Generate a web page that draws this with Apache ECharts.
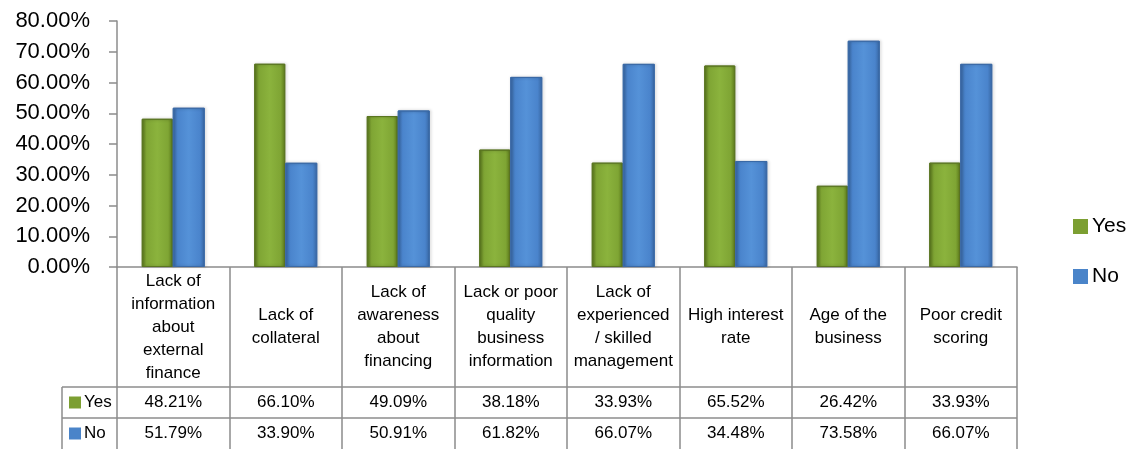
<!DOCTYPE html>
<html>
<head>
<meta charset="utf-8">
<script src="https://cdn.jsdelivr.net/npm/echarts@6/dist/echarts.min.js"></script>
<style>
  html, body { margin: 0; padding: 0; background: #fff; }
  #chart { width: 1137px; height: 449px; }
</style>
</head>
<body>
<div id="chart"></div>
<script>
// Obstacles to external finance: share of firms answering Yes / No
const categories = [
  'Lack of\ninformation\nabout\nexternal\nfinance',
  'Lack of\ncollateral',
  'Lack of\nawareness\nabout\nfinancing',
  'Lack or poor\nquality\nbusiness\ninformation',
  'Lack of\nexperienced\n/ skilled\nmanagement',
  'High interest\nrate',
  'Age of the\nbusiness',
  'Poor credit\nscoring'
];
const yesValues = [48.21, 66.10, 49.09, 38.18, 33.93, 65.52, 26.42, 33.93];
const noValues  = [51.79, 33.90, 50.91, 61.82, 66.07, 34.48, 73.58, 66.07];
const seriesNames = ['Yes', 'No'];
const yTicks = { min: 0, max: 80, interval: 10 };

const FONT = "'Liberation Sans', Arial, sans-serif";
const LINE = '#8c8c8c';
const GRID = { left: 117, right: 120, top: 21, bottom: 182 };
const CANVAS_H = 449;
const axisY = CANVAS_H - GRID.bottom;       // bottom of plot (0%)
const headerH = 120;                        // height of the category-name row
const rowH = 31;                            // height of each value row
const legendColLeft = 62;

function barGradient(edge, mid, light) {
  return new echarts.graphic.LinearGradient(0, 0, 1, 0, [
    { offset: 0, color: edge },
    { offset: 0.15, color: mid },
    { offset: 0.5, color: light },
    { offset: 0.85, color: mid },
    { offset: 1, color: edge }
  ]);
}
const greenFill = barGradient('#5e7c1d', '#7fa534', '#8bb33d');
const blueFill = barGradient('#3a6aa8', '#4a84cc', '#5592d8');
const greenIcon = '#7c9f32';
const blueIcon = '#4a84c9';

const chart = echarts.init(document.getElementById('chart'), null, { renderer: 'canvas' });

chart.setOption({
  animation: false,
  backgroundColor: '#fff',
  textStyle: { fontFamily: FONT },
  grid: GRID,
  legend: {
    orient: 'vertical',
    left: 1073,
    top: 216,
    padding: 0,
    itemWidth: 15,
    itemHeight: 15,
    itemGap: 29,
    icon: 'rect',
    textStyle: { fontSize: 21, color: '#000', fontFamily: FONT, padding: [0, 0, 0, -1] },
    data: [
      { name: seriesNames[0], itemStyle: { color: greenIcon, borderWidth: 0 } },
      { name: seriesNames[1], itemStyle: { color: blueIcon, borderWidth: 0 } }
    ]
  },
  xAxis: {
    type: 'category',
    data: categories,
    axisLine: { show: true, lineStyle: { color: LINE, width: 1.5 } },
    axisTick: {
      show: true,
      interval: 0,
      length: CANVAS_H - axisY,
      lineStyle: { color: LINE, width: 1.5 }
    },
    axisLabel: {
      interval: 0,
      margin: headerH / 2,
      verticalAlign: 'middle',
      align: 'center',
      fontSize: 17,
      lineHeight: 23,
      color: '#000',
      fontFamily: FONT
    },
    splitLine: { show: false }
  },
  yAxis: {
    type: 'value',
    min: yTicks.min,
    max: yTicks.max,
    interval: yTicks.interval,
    axisLine: { show: true, lineStyle: { color: LINE, width: 1.5 } },
    axisTick: { show: true, length: 8, lineStyle: { color: LINE, width: 1.5 } },
    axisLabel: {
      margin: 27,
      fontSize: 22,
      color: '#000',
      fontFamily: FONT,
      formatter: v => v.toFixed(2) + '%'
    },
    splitLine: { show: false }
  },
  series: [
    {
      name: seriesNames[0],
      type: 'bar',
      data: yesValues,
      barWidth: 31,
      barGap: '0%',
      itemStyle: {
        color: greenFill, borderColor: '#5a7520', borderWidth: 1,
        shadowColor: 'rgba(0,0,0,0.25)', shadowBlur: 3, shadowOffsetX: 1
      }
    },
    {
      name: seriesNames[1],
      type: 'bar',
      data: noValues,
      barWidth: 32,
      itemStyle: {
        color: blueFill, borderColor: '#3a69a6', borderWidth: 1,
        shadowColor: 'rgba(0,0,0,0.25)', shadowBlur: 3, shadowOffsetX: 1
      }
    }
  ]
});

// Data table under the plot: row lines, row headers and value cells
const plotRight = 1137 - GRID.right;
const row1Top = axisY + headerH;
const row2Top = row1Top + rowH;
const elements = [];

function hLine(y) {
  elements.push({
    type: 'line',
    shape: { x1: legendColLeft, y1: y, x2: plotRight, y2: y },
    style: { stroke: LINE, lineWidth: 1.5 },
    silent: true
  });
}
hLine(row1Top);
hLine(row2Top);
elements.push({
  type: 'line',
  shape: { x1: legendColLeft, y1: row1Top, x2: legendColLeft, y2: CANVAS_H },
  style: { stroke: LINE, lineWidth: 1.5 },
  silent: true
});

const rows = [
  { name: seriesNames[0], values: yesValues, icon: greenIcon, top: row1Top },
  { name: seriesNames[1], values: noValues, icon: blueIcon, top: row2Top }
];

rows.forEach(row => {
  const cy = row.top + rowH / 2;
  elements.push({
    type: 'rect',
    shape: { x: legendColLeft + 7, y: cy - 6, width: 12, height: 12 },
    style: { fill: row.icon },
    silent: true
  });
  elements.push({
    type: 'text',
    x: legendColLeft + 22,
    y: cy,
    style: {
      text: row.name, fontSize: 17, fontFamily: FONT, fill: '#000',
      align: 'left', verticalAlign: 'middle'
    },
    silent: true
  });
  row.values.forEach((v, i) => {
    const cx = chart.convertToPixel({ xAxisIndex: 0 }, categories[i]);
    elements.push({
      type: 'text',
      x: cx,
      y: cy,
      style: {
        text: v.toFixed(2) + '%', fontSize: 17, fontFamily: FONT, fill: '#000',
        align: 'center', verticalAlign: 'middle'
      },
      silent: true
    });
  });
});

chart.setOption({ graphic: { elements } });
</script>
</body>
</html>
